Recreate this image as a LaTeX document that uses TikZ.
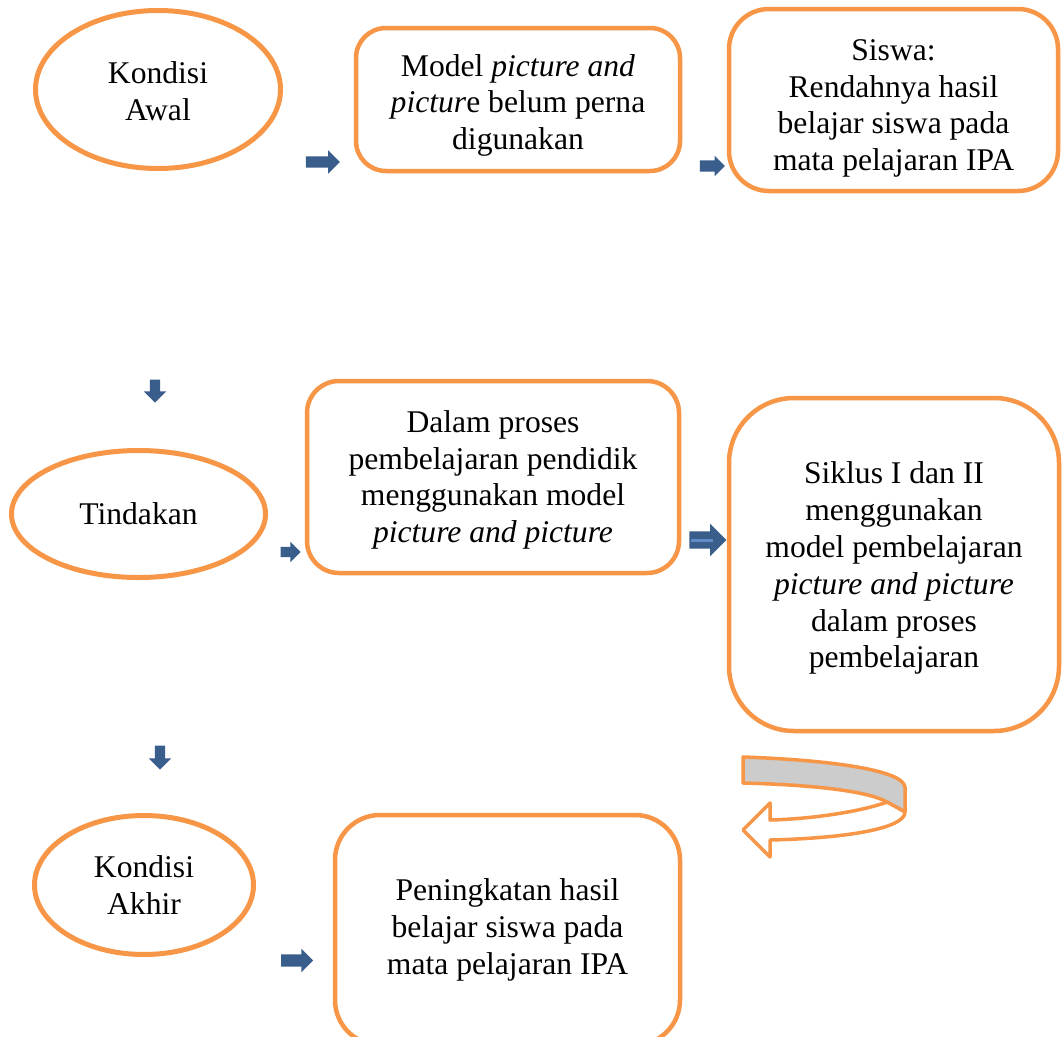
\documentclass[tikz,border=0pt]{standalone}
\usepackage{fontspec}
\setmainfont{Liberation Serif}
\usetikzlibrary{shapes.geometric,shapes.arrows}
\definecolor{boxorange}{RGB}{247,150,70}
\definecolor{arrowblue}{RGB}{58,94,140}
\definecolor{stripeblue}{RGB}{96,140,200}
\definecolor{backgray}{RGB}{204,204,204}
\newcommand{\topgap}[1]{\rule{0pt}{#1}}

\begin{document}
\begin{tikzpicture}[x=1pt,y=-1pt,
    every node/.style={font=\fontsize{31.6}{36.8}\selectfont, align=center},
    oval/.style={ellipse, draw=boxorange, line width=5pt, inner sep=0pt},
    rbox/.style={rectangle, draw=boxorange, line width=4.5pt, rounded corners=#1},
    blockarrow/.style n args={3}{single arrow, fill=arrowblue, draw=none, inner xsep=0pt,
        minimum height=#1, inner ysep=#2, single arrow head extend=#3}
]
    \path[use as bounding box, fill=white] (0,0) rectangle (1062,1036);
    \clip (0,0) rectangle (1062,1036);

    \node[oval, minimum width=245pt, minimum height=158pt] (awal) at (158,89.5) {\topgap{25.6pt}Kondisi\\ Awal};
    \node[rbox=30pt, minimum width=324pt, minimum height=143pt] (model) at (518,99.5)
        {\topgap{33.6pt}Model \textit{picture and}\\ \textit{pictur}e belum perna\\ digunakan};
    \node[rbox=40pt, minimum width=329pt, minimum height=182pt] (siswa) at (893.5,100)
        {\topgap{37.6pt}Siswa:\\ Rendahnya hasil\\ belajar siswa pada\\ mata pelajaran IPA};

    \node[oval, minimum width=254pt, minimum height=127pt] (tindakan) at (138.5,514) {Tindakan};
    \node[rbox=32pt, minimum width=372pt, minimum height=192pt] (proses) at (493,477)
        {\topgap{27.6pt}Dalam proses\\ pembelajaran pendidik\\ menggunakan model\\ \textit{picture and picture}};
    \node[rbox=65pt, minimum width=330pt, minimum height=333pt] (siklus) at (894,564.5)
        {\topgap{29.6pt}Siklus I dan II\\ menggunakan\\ model pembelajaran\\ \textit{picture and picture}\\ dalam proses\\ pembelajaran};

    \node[oval, minimum width=219pt, minimum height=139pt] (akhir) at (144,885) {Kondisi\\ Akhir};
    \node[rbox=45pt, minimum width=345pt, minimum height=230pt] (hasil) at (507.5,930)
        {Peningkatan hasil\\ belajar siswa pada\\ mata pelajaran IPA};

    \node[blockarrow={34pt}{5.5pt}{6pt}] (ar1) at (320,162) {};
    \node[blockarrow={25pt}{5.5pt}{4.5pt}] (ar2) at (709.5,166) {};
    \node[blockarrow={23pt}{5pt}{6pt}, rotate=-90] (ar3) at (155,388.5) {};
    \node[blockarrow={20pt}{5pt}{5pt}] (ar4) at (288,552) {};
    \node[blockarrow={37pt}{8.5pt}{7.5pt}] (ar5) at (703.5,540) {};
    \draw[stripeblue, line width=3pt] ([xshift=-12.5pt]ar5.center) -- ([xshift=9.5pt]ar5.center);
    \node[blockarrow={24pt}{5pt}{6pt}, rotate=-90] (ar6) at (160,755) {};
    \node[blockarrow={32pt}{6pt}{5.5pt}] (ar7) at (294,960.5) {};

    \filldraw[draw=boxorange, fill=backgray, line width=3.5pt, line join=round]
        (743,757) .. controls (830,760) and (903,770) .. (905,787) -- (905,812) -- (887,802)
        .. controls (870,792) and (820,785) .. (743,783) -- cycle;
    \filldraw[draw=boxorange, fill=white, line width=3.5pt, line join=round]
        (905,812) .. controls (905,828) and (850,838) .. (770,840) -- (770,857) -- (743,830)
        -- (770,803) -- (770,820) .. controls (810,819) and (860,812) .. (887,802) -- cycle;
\end{tikzpicture}
\end{document}
